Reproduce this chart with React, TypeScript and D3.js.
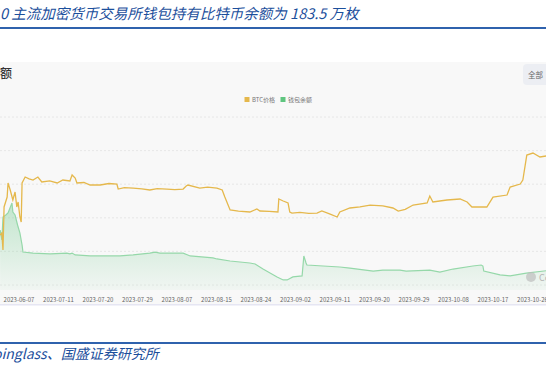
import React from 'react';
import * as d3 from 'd3';

// x positions are category positions: one tick label every 9 positions
const tickLabels = [
  '2023-06-07', '2023-07-11', '2023-07-20', '2023-07-29', '2023-08-07',
  '2023-08-15', '2023-08-24', '2023-09-02', '2023-09-11', '2023-09-20',
  '2023-09-29', '2023-10-08', '2023-10-17', '2023-10-26',
];

// BTC price (USD)
const pricePos = [
  -4.3, -3.9, -3.65, -3.4, -2.7, -2.5, -2.0, -1.4, -0.9, -0.5, -0.2, 0.2, 0.5, 0.7,
  1.4, 2.3, 3.2, 4.3, 5.2, 7.0, 8.7, 10.0, 11.6, 12.1, 12.8, 13.2, 14.8, 16.2,
  18.5, 20.5, 22.3, 22.6, 24.0, 26.0, 28.0, 29.8, 31.5, 33.7, 35.5, 37.4, 38.1,
  38.5, 41.2, 43.0, 45.1, 46.3, 46.9, 48.1, 50.0, 52.6, 54.2, 54.9, 57.0, 59.0,
  59.2, 60.2, 61.3, 61.7, 62.2, 64.0, 66.0, 67.9, 69.0, 70.9, 72.5, 73.1, 75.4,
  77.7, 80.0, 82.9, 85.2, 86.4, 88.0, 89.8, 93.0, 93.6, 94.3, 97.5, 100.5, 102.1,
  103.2, 106.6, 108.0, 111.2, 111.9, 114.2, 114.8, 115.7, 117.1, 118.7, 120.1,
];
const priceValues = [
  22440, 22740, 20210, 26610, 28090, 30180, 29140, 27650, 28840, 26610, 27350, 25120, 24370, 30180,
  31070, 30800, 30620, 31070, 30330, 30500, 30180, 30620, 30480, 31370, 30920, 30180, 30250, 29880,
  29880, 30100, 30030, 29280, 29500, 29430, 29300, 29140, 29350, 29280, 29200, 29280, 29730,
  29880, 29430, 29550, 29430, 29140, 28090, 26160, 26000, 25860, 26310, 26010, 25950, 25860,
  27800, 27500, 27200, 25860, 25710, 25800, 25650, 25710, 26010, 25560, 25120, 25860, 26460,
  26610, 26900, 26760, 26460, 26010, 26250, 26900, 27200, 28240, 27350, 27650, 27800, 27350,
  26610, 26610, 28090, 28390, 29580, 30030, 30620, 34340, 34640, 34050, 34200,
];

// exchange wallet balance (万枚)
const walletPos = [
  -4.3, -3.9, -3.65, -3.0, -2.5, -2.05, -1.6, -1.4, -0.9, -0.5, -0.2, 0.2, 0.7, 0.9,
  3.2, 7.1, 10.9, 11.6, 12.1, 12.8, 16.2, 18.5, 23.0, 26.0, 29.8, 31.0, 32.1, 37.4,
  39.0, 44.2, 45.1, 48.1, 52.6, 53.8, 55.6, 58.8, 60.2, 61.1, 62.4, 64.5, 64.9, 65.4,
  65.6, 69.3, 73.1, 75.4, 80.7, 82.9, 86.8, 88.2, 93.6, 95.9, 98.9, 103.4, 105.3,
  105.7, 105.9, 109.6, 111.9, 115.6, 120.1,
];
const walletValues = [
  207.7, 201.8, 215.5, 216.7, 217.9, 220.8, 223.8, 218.4, 216.7, 212.5, 209.5, 206.0, 198.8, 194.6,
  194.0, 193.5, 194.0, 193.5, 194.0, 192.9, 192.3, 192.3, 192.3, 192.9, 194.0, 194.6, 194.0, 194.0,
  192.3, 191.1, 190.5, 189.3, 188.1, 187.5, 184.5, 179.8, 178.0, 178.0, 179.8, 180.4, 192.3, 188.1,
  186.9, 186.3, 185.7, 185.1, 183.3, 183.9, 183.9, 183.3, 183.9, 182.7, 184.5, 186.3, 186.9,
  186.3, 183.3, 181.0, 180.4, 182.1, 183.5,
];

const legendItems = [
  { label: 'BTC价格', color: '#e5b84c' },
  { label: '钱包余额', color: '#5fc57f' },
];

const W = 546;
const H = 365;
const font = '"Noto Sans CJK SC", "Noto Sans", sans-serif';

export default function App() {
  const x = d3.scaleLinear().domain([0, 117]).range([19, 532.5]);
  const yPrice = d3.scaleLinear().domain([15000, 40000]).range([285, 117]);
  const yWallet = d3.scaleLinear().domain([175, 275]).range([285, 117]);
  const plotBottom = 290;

  const priceData = pricePos.map((p, i) => [p, priceValues[i]] as [number, number]);
  const walletData = walletPos.map((p, i) => [p, walletValues[i]] as [number, number]);

  const priceLine = d3.line<[number, number]>()
    .x(d => x(d[0]))
    .y(d => yPrice(d[1]));
  const walletLine = d3.line<[number, number]>()
    .x(d => x(d[0]))
    .y(d => yWallet(d[1]));
  const walletArea = d3.area<[number, number]>()
    .x(d => x(d[0]))
    .y0(plotBottom)
    .y1(d => yWallet(d[1]));

  const grid = yPrice.ticks(5);

  return (
    <svg width={W} height={H} style={{ position: 'absolute', left: 0, top: 0 }}>
      <defs>
        <linearGradient id="walletFill" x1="0" y1="0" x2="0" y2="1">
          <stop offset="0%" stopColor="#7fcf98" stopOpacity={0.45} />
          <stop offset="100%" stopColor="#7fcf98" stopOpacity={0.06} />
        </linearGradient>
        <clipPath id="plotClip">
          <rect x={0} y={62} width={W} height={243} />
        </clipPath>
      </defs>
      <rect x={0} y={0} width={W} height={H} fill="#ffffff" />

      {/* title */}
      <text x={-8} y={19} fontFamily={font} fontSize={14.5} fontStyle="italic" fill="#1c4f9c">
        10 主流加密货币交易所钱包持有比特币余额为 183.5 万枚
      </text>
      <rect x={0} y={27} width={W} height={2} fill="#2f62ad" />

      {/* chart panel */}
      <rect x={0} y={62} width={W} height={243} fill="#f8f8f8" />
      <rect x={0} y={304} width={W} height={1.5} fill="#e6e6f3" />
      <text x={-12} y={78} fontFamily={font} fontSize={12} fontWeight={500} fill="#333">余额</text>

      <rect x={523} y={64} width={30} height={21} rx={4} fill="#eceef3" />
      <text x={528} y={77.5} fontFamily={font} fontSize={7.5} fill="#666">全部</text>

      {/* legend */}
      <g fontFamily={font} fontSize={6} fill="#777">
        <rect x={244.5} y={97} width={5} height={5} fill={legendItems[0].color} />
        <text x={252} y={102}>{legendItems[0].label}</text>
        <rect x={280.5} y={97} width={5} height={5} fill={legendItems[1].color} />
        <text x={288} y={102}>{legendItems[1].label}</text>
      </g>

      {/* grid */}
      {grid.map(t => (
        <line key={t} x1={0} x2={W} y1={yPrice(t)} y2={yPrice(t)}
          stroke="#e2e2e2" strokeWidth={0.8} strokeDasharray="2,2" />
      ))}

      <g clipPath="url(#plotClip)">
        <path d={walletArea(walletData) || ''} fill="url(#walletFill)" />
        <path d={walletLine(walletData) || ''} fill="none" stroke="#95d8a9" strokeWidth={1.2} />
        <path d={priceLine(priceData) || ''} fill="none" stroke="#e5b84c" strokeWidth={1.3} />
      </g>

      {/* watermark */}
      <circle cx={531} cy={277} r={5} fill="#bdbdbd" opacity={0.7} />
      <text x={539} y={281} fontFamily={font} fontSize={9} fill="#b5b5b5">Co</text>

      {/* x axis labels */}
      {tickLabels.map((lab, i) => (
        <text key={lab} x={x(i * 9)} y={302} textAnchor="middle"
          fontFamily={font} fontSize={6} fill="#666">{lab}</text>
      ))}

      {/* source */}
      <rect x={0} y={342} width={W} height={2} fill="#2f62ad" />
      <text x={-16} y={359} fontFamily={font} fontSize={14} fontStyle="italic" fill="#1c4f9c">
        Coinglass、国盛证券研究所
      </text>
    </svg>
  );
}
